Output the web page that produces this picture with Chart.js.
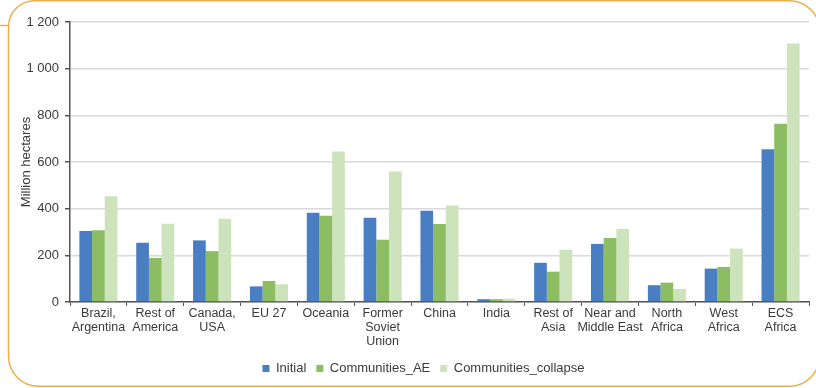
<!DOCTYPE html>
<html>
<head>
<meta charset="utf-8">
<script src="https://cdn.jsdelivr.net/npm/chart.js@4.4.1/dist/chart.umd.min.js"></script>
<style>
html,body{margin:0;padding:0;background:#fff;}
#wrap{width:816px;height:388px;position:relative;}
</style>
</head>
<body>
<div id="wrap"><canvas id="c" width="816" height="388"></canvas></div>
<script>
const categories = [
  ["Brazil,","Argentina"], ["Rest of","America"], ["Canada,","USA"], ["EU 27"], ["Oceania"],
  ["Former","Soviet","Union"], ["China"], ["India"], ["Rest of","Asia"], ["Near and","Middle East"],
  ["North","Africa"], ["West","Africa"], ["ECS","Africa"]
];
const initial = [304, 254, 264, 67, 383, 361, 391, 12, 168, 249, 72, 143, 655];
const communitiesAE = [307, 189, 218, 90, 370, 267, 334, 12, 130, 274, 83, 150, 764];
const communitiesCollapse = [453, 335, 357, 76, 645, 559, 414, 14, 224, 313, 56, 229, 1108];
const yTicks = [0, 200, 400, 600, 800, 1000, 1200];

const FONT = "'Liberation Sans', Arial, Helvetica, sans-serif";
const TXT = '#3a3a3a';

const framePlugin = {
  id: 'frame',
  afterLayout(chart) {
    if (chart.legend) { chart.legend.left += 14; chart.legend.right += 14; }
  },
  beforeDraw(chart) {
    const ctx = chart.ctx;
    ctx.save();
    ctx.strokeStyle = '#e8b14e';
    ctx.lineWidth = 1.5;
    ctx.beginPath();
    ctx.roundRect(8.5, 0.75, 811, 385.5, [26, 30, 30, 30]);
    ctx.stroke();
    ctx.beginPath();
    ctx.moveTo(0, 25.5);
    ctx.lineTo(8.5, 25.5);
    ctx.stroke();
    ctx.restore();
  }
};

new Chart(document.getElementById('c'), {
  type: 'bar',
  data: {
    labels: categories,
    datasets: [
      { label: 'Initial', data: initial, backgroundColor: '#4a7ec2' },
      { label: 'Communities_AE', data: communitiesAE, backgroundColor: '#8cbd63' },
      { label: 'Communities_collapse', data: communitiesCollapse, backgroundColor: '#cde3bb' }
    ]
  },
  plugins: [framePlugin],
  options: {
    responsive: false,
    animation: false,
    devicePixelRatio: 1,
    layout: { padding: { left: 10, right: 7, top: 22, bottom: 3 } },
    datasets: { bar: { categoryPercentage: 0.67, barPercentage: 1.0 } },
    plugins: {
      tooltip: { enabled: false },
      legend: {
        position: 'bottom',
        labels: {
          boxWidth: 7, boxHeight: 7, padding: 10,
          color: TXT,
          font: { family: FONT, size: 13 }
        }
      }
    },
    scales: {
      x: {
        grid: { offset: true, drawOnChartArea: false, tickLength: 4, color: '#555', tickColor: '#555' },
        border: { color: '#555', width: 1.5 },
        ticks: { color: TXT, font: { family: FONT, size: 12.5, lineHeight: 1.12 }, padding: 1, maxRotation: 0, autoSkip: false },
        afterFit(s) { s.height = 50; }
      },
      y: {
        min: 0, max: 1200,
        afterBuildTicks(s) { s.ticks = yTicks.map(v => ({ value: v })); },
        grid: { color: '#d9d9d9', lineWidth: 1.5, tickLength: 5, tickColor: '#555' },
        border: { color: '#555', width: 1.5 },
        ticks: {
          color: TXT, font: { family: FONT, size: 13 }, padding: 6,
          callback: v => String(v).replace(/\B(?=(\d{3})+(?!\d))/g, ' ')
        },
        title: { display: true, text: 'Million hectares', color: TXT, font: { family: FONT, size: 13 }, padding: { top: 9, bottom: 0 } },
        afterFit(s) { s.width = 60; }
      }
    }
  }
});
</script>
</body>
</html>
